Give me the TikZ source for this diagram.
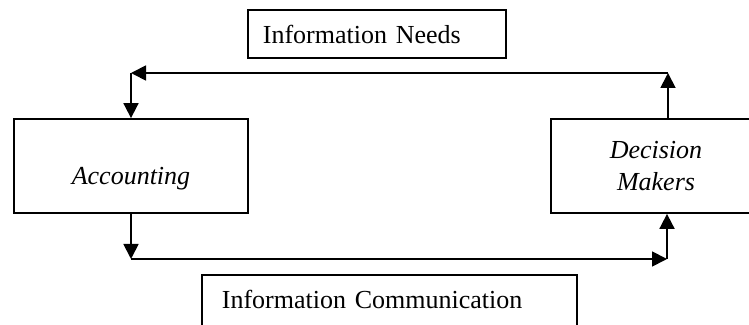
\documentclass[tikz,border=0pt]{standalone}
\usepackage{fontspec}
\setmainfont{Liberation Serif}
\usepackage{tikz}
\usetikzlibrary{arrows.meta,calc}
\tikzset{
  caja/.style     = {rectangle, draw=black, line width=0.9pt, inner ysep=0pt,
                     font=\fontsize{13}{16}\selectfont},
  cajatexto/.style = {caja, anchor=north west, align=left, inner xsep=7.5pt,
                      text height=17pt},
  flecha/.style   = {-{Triangle[length=7.5pt, width=7.5pt]}, line width=0.9pt},
}

\begin{document}
\begin{tikzpicture}[x=0.5pt, y=-0.5pt]
    \useasboundingbox (0,0) rectangle (749,325);
    \clip (0,0) rectangle (749,325);

    % --- cajas principales
    \node[caja, minimum width=117pt, minimum height=47pt,
          text height=33pt, text depth=14pt, font=\fontsize{13}{16}\selectfont\itshape]
          (acc) at (131,166) {Accounting};
    \node[caja, minimum width=105pt, minimum height=47pt, align=center,
          font=\fontsize{13}{16}\selectfont\itshape]
          (dm) at (656,166) {Decision\\Makers};

    % --- etiquetas
    \node[cajatexto, text width=114pt, text depth=7pt] (needs) at (247,9)
          {Information Needs};
    \node[cajatexto, inner xsep=10pt, text width=167.5pt, text depth=14pt] (comm) at (201,274)
          {Information Communication};

    % --- esquinas
    \coordinate (tr) at (668,73);
    \coordinate (tl) at (acc.north |- tr);
    \coordinate (br) at (667,259);
    \coordinate (bl) at (acc.south |- br);

    % --- flechas
    \draw[flecha] (dm.north -| tr) -- (tr);
    \draw[flecha] (tr) -- (tl);
    \draw[flecha] (tl) -- (acc.north);
    \draw[flecha] (acc.south) -- (bl);
    \draw[flecha] (bl) -- (br);
    \draw[flecha] (br) -- (br |- dm.south);
  \end{tikzpicture}
\end{document}
